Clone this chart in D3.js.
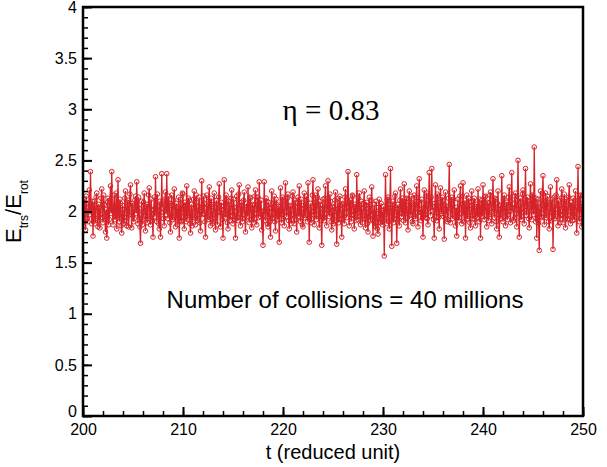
<!DOCTYPE html>
<html>
<head>
<meta charset="utf-8">
<script src="https://cdn.jsdelivr.net/npm/d3@7"></script>
<style>
  body { margin: 0; background: #fff; }
  svg { display: block; }
  .tick text { font-family: "Liberation Sans", Arial, sans-serif; font-size: 16px; fill: #000; }
</style>
</head>
<body>
<script>
// time axis: sampled every 0.0625 reduced units from 200 to 250
const tStart = 200;
const tStep = 0.0625;

// ratio E_trs / E_rot, 16 samples per unit of t
const ratio = [
  1.95, 1.86, 2.12, 2.01, 1.82, 2.15, 2.08, 1.93, 1.90, 2.04, 2.21, 1.97, 2.39, 2.05, 1.88, 2.10,
  1.76, 2.03, 2.10, 1.88, 1.93, 2.14, 2.18, 1.91, 1.85, 2.07, 2.04, 1.84, 1.97, 2.13, 2.22, 1.94,
  1.89, 2.16, 2.07, 1.95, 1.80, 2.02, 1.74, 2.09, 2.13, 1.87, 1.92, 2.11, 2.25, 1.98, 2.39, 2.02,
  1.87, 2.05, 2.16, 1.92, 1.95, 2.18, 1.83, 2.04, 2.31, 1.96, 1.90, 2.12, 2.08, 1.86, 1.79, 2.06,
  2.02, 1.88, 1.91, 2.13, 2.20, 1.94, 1.86, 2.09, 2.11, 1.85, 1.97, 2.17, 2.26, 1.99, 1.84, 2.08,
  2.06, 1.90, 1.93, 2.11, 2.15, 1.98, 2.29, 2.01, 1.88, 2.14, 2.03, 1.85, 1.69, 1.97, 2.10, 1.87,
  1.92, 2.09, 2.18, 1.96, 1.81, 2.05, 2.07, 1.89, 1.95, 2.16, 2.23, 1.93, 1.87, 2.12, 2.01, 1.91,
  1.75, 2.02, 2.14, 1.95, 2.34, 2.03, 1.90, 2.17, 2.05, 1.88, 1.83, 2.10, 1.75, 1.99, 2.37, 2.04,
  2.10, 1.93, 1.86, 2.12, 2.19, 1.97, 2.37, 2.02, 1.93, 2.15, 2.08, 1.89, 1.80, 2.06, 2.16, 1.92,
  1.94, 2.11, 2.22, 1.96, 1.85, 2.08, 2.04, 1.87, 1.97, 2.14, 1.74, 2.01, 2.12, 1.91, 1.90, 2.18,
  2.17, 1.95, 1.83, 2.09, 2.06, 1.90, 2.25, 1.98, 1.92, 2.13, 2.11, 1.88, 1.79, 2.07, 2.03, 1.86,
  1.96, 2.12, 2.20, 1.94, 1.87, 2.16, 2.09, 1.91, 1.93, 2.05, 2.14, 1.89, 1.81, 2.04, 2.30, 1.97,
  1.98, 2.15, 2.08, 1.90, 1.75, 2.03, 2.16, 1.94, 1.92, 2.10, 2.24, 1.96, 1.86, 2.13, 2.05, 1.88,
  1.90, 2.07, 2.18, 1.93, 1.82, 2.04, 2.11, 1.87, 1.99, 2.14, 2.27, 2.00, 1.85, 2.09, 2.02, 1.92,
  1.74, 2.05, 2.31, 1.97, 1.94, 2.16, 2.12, 1.89, 1.83, 2.10, 2.07, 1.91, 1.96, 2.13, 2.21, 1.95,
  1.88, 2.12, 2.04, 1.92, 1.74, 2.00, 2.15, 1.94, 1.91, 2.17, 2.26, 1.98, 1.86, 2.06, 2.09, 1.90,
  1.97, 2.11, 2.19, 1.93, 1.80, 2.02, 2.08, 1.95, 2.24, 2.03, 1.89, 2.14, 2.13, 1.92, 1.84, 2.07,
  2.06, 1.89, 1.93, 2.15, 2.21, 1.98, 1.87, 2.10, 2.14, 1.94, 2.29, 2.02, 1.95, 2.11, 1.82, 2.00,
  1.67, 1.96, 2.29, 2.01, 1.91, 2.13, 2.10, 1.88, 1.85, 2.09, 2.03, 1.90, 1.75, 2.04, 2.20, 1.93,
  1.94, 2.08, 2.15, 1.90, 1.81, 2.12, 2.07, 1.92, 1.98, 2.05, 1.70, 1.99, 2.23, 1.97, 1.89, 2.14,
  2.12, 1.93, 1.86, 2.10, 2.28, 2.00, 1.95, 2.13, 2.17, 1.91, 1.83, 2.06, 2.05, 1.88, 1.92, 2.15,
  2.19, 1.97, 1.88, 2.11, 2.09, 1.92, 1.80, 2.04, 2.14, 1.95, 2.25, 1.99, 1.90, 2.12, 2.03, 1.87,
  1.85, 2.06, 2.18, 1.94, 1.96, 2.15, 2.11, 1.90, 2.28, 2.02, 1.70, 1.98, 2.08, 1.89, 1.93, 2.16,
  2.31, 2.00, 1.87, 2.09, 2.16, 1.92, 1.97, 2.14, 2.22, 1.95, 1.84, 2.10, 2.06, 1.91, 1.67, 2.03,
  2.12, 1.94, 1.91, 2.13, 2.25, 1.98, 1.86, 2.08, 2.30, 2.01, 1.95, 2.17, 2.10, 1.90, 1.82, 2.05,
  2.04, 1.88, 1.90, 2.11, 2.19, 1.96, 1.68, 2.02, 2.13, 1.89, 1.93, 2.15, 2.06, 1.92, 1.75, 2.07,
  2.08, 1.93, 1.88, 2.14, 2.22, 1.99, 1.94, 2.12, 2.39, 2.04, 1.86, 2.09, 2.11, 1.90, 1.97, 2.16,
  2.15, 1.96, 1.83, 2.07, 2.05, 1.91, 2.36, 2.02, 1.92, 2.13, 2.18, 1.95, 1.87, 2.10, 2.03, 1.89,
  1.95, 2.08, 2.20, 1.93, 1.84, 2.06, 2.09, 1.88, 1.80, 2.03, 2.14, 1.92, 1.91, 2.11, 2.24, 1.97,
  1.76, 1.99, 2.07, 1.86, 1.85, 2.10, 1.98, 1.83, 1.78, 2.04, 2.12, 1.90, 1.89, 2.08, 2.01, 1.87,
  1.92, 2.05, 1.565, 1.97, 2.36, 2.01, 1.88, 2.12, 2.14, 1.90, 1.83, 2.07, 2.42, 1.95, 1.66, 2.03,
  2.10, 1.89, 1.93, 2.15, 2.18, 1.96, 1.69, 2.02, 2.07, 1.92, 1.86, 2.11, 2.22, 1.98, 1.95, 2.13,
  2.04, 1.91, 2.27, 2.00, 1.89, 2.12, 2.13, 1.94, 1.82, 2.06, 2.20, 1.96, 1.97, 2.15, 2.09, 1.90,
  1.88, 2.07, 2.16, 1.95, 1.93, 2.14, 2.25, 1.99, 1.85, 2.10, 2.32, 2.02, 1.99, 1.91, 2.12, 1.94,
  1.75, 2.03, 2.21, 1.97, 1.94, 2.16, 2.18, 1.93, 1.87, 2.11, 2.38, 2.04, 1.96, 2.14, 2.42, 2.01,
  2.05, 1.92, 1.74, 2.08, 2.26, 1.99, 1.91, 2.17, 2.15, 1.94, 1.83, 2.09, 2.23, 2.00, 1.98, 2.14,
  2.11, 1.95, 1.73, 2.06, 2.19, 1.97, 2.05, 1.90, 1.92, 2.13, 2.46, 2.03, 1.89, 2.10, 2.14, 1.93,
  1.97, 2.12, 2.21, 1.95, 1.86, 2.04, 1.76, 2.01, 2.12, 1.91, 1.94, 2.15, 2.25, 1.98, 1.88, 2.07,
  2.28, 2.00, 1.90, 2.11, 1.74, 2.02, 2.16, 1.93, 1.95, 2.13, 2.09, 1.89, 1.84, 2.06, 2.20, 1.96,
  1.93, 2.10, 2.13, 1.92, 1.86, 2.05, 2.07, 1.94, 2.22, 1.99, 1.90, 2.12, 1.74, 2.03, 2.11, 1.95,
  2.26, 2.02, 1.92, 2.14, 2.15, 1.96, 1.85, 2.09, 2.08, 1.91, 1.97, 2.16, 2.19, 1.99, 1.88, 2.11,
  2.32, 2.04, 1.94, 2.13, 2.12, 1.90, 1.83, 2.08, 2.20, 1.97, 1.75, 2.02, 2.06, 1.93, 2.35, 2.05,
  1.90, 2.12, 2.16, 1.95, 1.86, 2.07, 2.09, 1.92, 1.97, 2.14, 2.24, 2.00, 1.89, 2.10, 2.38, 2.03,
  2.04, 1.91, 1.93, 2.15, 2.18, 1.98, 1.85, 2.11, 2.50, 2.06, 1.75, 2.01, 2.13, 1.92, 1.95, 2.17,
  2.21, 1.99, 1.88, 2.12, 2.42, 2.05, 1.96, 2.14, 2.10, 1.93, 1.84, 2.08, 2.27, 2.01, 1.92, 2.16,
  2.15, 1.97, 2.63, 2.06, 1.90, 2.13, 1.74, 2.00, 2.12, 1.89, 1.62, 2.04, 2.20, 1.95, 1.94, 2.18,
  2.35, 2.02, 1.87, 2.10, 2.18, 1.94, 1.96, 2.15, 2.09, 1.90, 1.83, 2.07, 2.24, 1.99, 1.91, 2.12,
  1.63, 1.98, 2.14, 1.93, 1.95, 2.16, 2.31, 2.02, 1.86, 2.11, 2.06, 1.89, 1.97, 2.13, 2.22, 1.96,
  1.89, 2.08, 2.17, 1.95, 1.84, 2.12, 2.10, 1.92, 1.93, 2.14, 2.26, 2.00, 1.88, 2.09, 2.05, 1.91,
  2.13, 1.97, 1.92, 2.11, 2.20, 1.94, 1.79, 2.05, 2.44, 2.02, 1.90, 2.15, 2.16, 1.93, 1.85, 2.08,
  2.02
];

const xTicks = [200, 210, 220, 230, 240, 250];
const yTicks = [0, 0.5, 1, 1.5, 2, 2.5, 3, 3.5, 4];

const data = ratio.map((v, i) => ({ t: tStart + i * tStep, v: v }));

const W = 607, H = 467;
const margin = { left: 83, right: 24, top: 7, bottom: 51 };
const red = "#d62229";

const svg = d3.select("body").append("svg")
  .attr("width", W)
  .attr("height", H);

const x = d3.scaleLinear().domain([200, 250]).range([margin.left, W - margin.right]);
const y = d3.scaleLinear().domain([0, 4]).range([H - margin.bottom, margin.top]);

// clip so markers at the edges stay inside the frame
svg.append("clipPath").attr("id", "plot")
  .append("rect")
  .attr("x", x(200)).attr("y", y(4))
  .attr("width", x(250) - x(200)).attr("height", y(0) - y(4));

const plot = svg.append("g").attr("clip-path", "url(#plot)");

plot.append("path")
  .datum(data)
  .attr("fill", "none")
  .attr("stroke", red)
  .attr("stroke-width", 1.3)
  .attr("d", d3.line().x(d => x(d.t)).y(d => y(d.v)));

// hollow markers
plot.selectAll("circle")
  .data(data)
  .enter().append("circle")
  .attr("cx", d => x(d.t))
  .attr("cy", d => y(d.v))
  .attr("r", 2.3)
  .attr("fill", "none")
  .attr("stroke", red)
  .attr("stroke-width", 1);

// minor ticks
svg.append("g")
  .attr("transform", `translate(0,${y(0)})`)
  .call(d3.axisBottom(x).tickValues(d3.range(200, 251, 2)).tickSize(-5).tickFormat(""))
  .call(g => g.select(".domain").remove())
  .call(g => g.selectAll("line").attr("stroke-width", 1.5));

svg.append("g")
  .attr("transform", `translate(${x(200)},0)`)
  .call(d3.axisLeft(y).tickValues(d3.range(0, 41).map(i => i / 10)).tickSize(-5).tickFormat(""))
  .call(g => g.select(".domain").remove())
  .call(g => g.selectAll("line").attr("stroke-width", 1.5));

// major ticks with labels
svg.append("g")
  .attr("transform", `translate(0,${y(0)})`)
  .call(d3.axisBottom(x).tickValues(xTicks).tickSize(-9).tickPadding(8).tickFormat(d3.format("d")))
  .call(g => g.select(".domain").remove())
  .call(g => g.selectAll("line").attr("stroke-width", 2));

svg.append("g")
  .attr("transform", `translate(${x(200)},0)`)
  .call(d3.axisLeft(y).tickValues(yTicks).tickSize(-9).tickPadding(6).tickFormat(d => String(d)))
  .call(g => g.select(".domain").remove())
  .call(g => g.selectAll("line").attr("stroke-width", 2))
  .call(g => g.selectAll("text").filter(d => d === 0).attr("dy", "0.05em"));

// frame
svg.append("rect")
  .attr("x", x(200)).attr("y", y(4))
  .attr("width", x(250) - x(200)).attr("height", y(0) - y(4))
  .attr("fill", "none")
  .attr("stroke", "#000")
  .attr("stroke-width", 2.5);

// axis titles
svg.append("text")
  .attr("x", (x(200) + x(250)) / 2)
  .attr("y", 459)
  .attr("text-anchor", "middle")
  .style("font-family", "Liberation Sans, Arial, sans-serif")
  .style("font-size", "20px")
  .text("t (reduced unit)");

const yTitle = svg.append("text")
  .attr("transform", `translate(21,${(y(0) + y(4)) / 2}) rotate(-90)`)
  .attr("text-anchor", "middle")
  .style("font-family", "Liberation Sans, Arial, sans-serif")
  .style("font-size", "22px");
yTitle.append("tspan").text("E");
yTitle.append("tspan").attr("dy", 7).style("font-size", "12px").text("trs");
yTitle.append("tspan").attr("dy", -7).text("/E");
yTitle.append("tspan").attr("dy", 7).style("font-size", "12px").text("rot");

// annotations
svg.append("text")
  .attr("x", 331)
  .attr("y", 120)
  .attr("text-anchor", "middle")
  .style("font-family", "Liberation Serif, Times New Roman, serif")
  .style("font-size", "29px")
  .text("η = 0.83");

svg.append("text")
  .attr("x", 345)
  .attr("y", 308)
  .attr("text-anchor", "middle")
  .style("font-family", "Liberation Sans, Arial, sans-serif")
  .style("font-size", "24px")
  .text("Number of collisions = 40 millions");
</script>
</body>
</html>
